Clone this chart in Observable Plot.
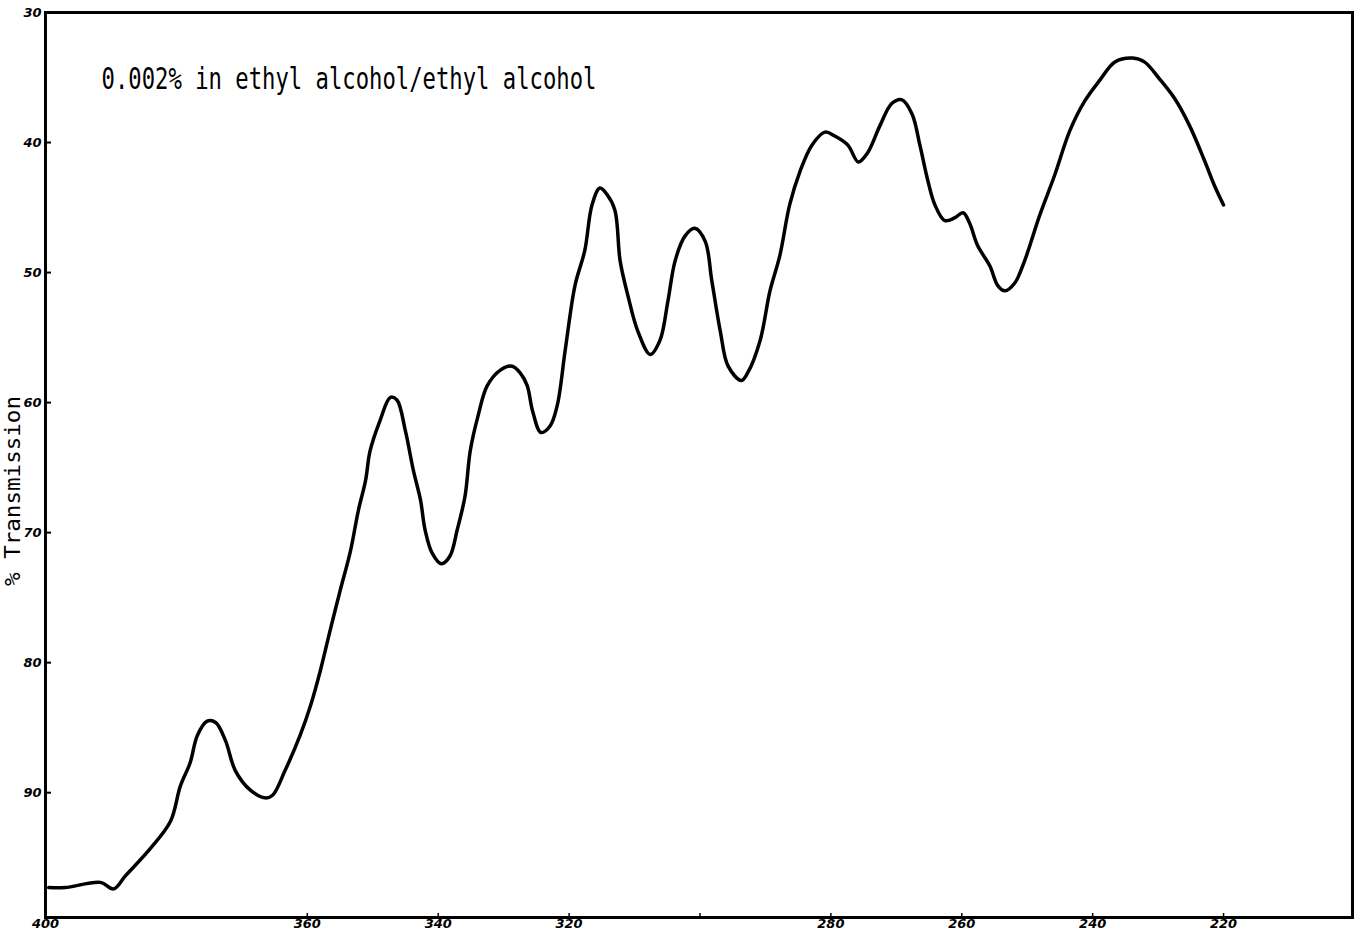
<!DOCTYPE html>
<html>
<head>
<meta charset="utf-8">
<script src="https://cdn.jsdelivr.net/npm/d3@7"></script>
<script src="https://cdn.jsdelivr.net/npm/@observablehq/plot@0.6"></script>
<style>
  html, body { margin: 0; padding: 0; background: #fff; }
  #chart svg { display: block; }
</style>
</head>
<body>
<div id="chart"></div>
<script>
const titleText = "0.002% in ethyl alcohol/ethyl alcohol";
const yLabel = "% Transmission";

const xTickValues = [360, 340, 320, 300, 280, 260, 240, 220];
const xTickLabels = [400, 360, 340, 320, 280, 260, 240, 220];
const yTickValues = [30, 40, 50, 60, 70, 80, 90];

const wavelength = [
  399.5, 397, 391.6, 389.6, 387.8, 384, 380.9, 379.4, 377.9, 376.8,
  375.3, 374.0, 372.5, 371, 368.7, 366.4, 365.3, 363.4, 361.1, 359.5,
  358, 356.5, 355, 353.4, 352.2, 351.1, 350.4, 348.9, 347.3, 346.3,
  345, 343.8, 342.7, 342, 340.9, 339.5, 338.2, 337.1, 335.9, 335.1,
  333.9, 332.5, 330.5, 328.7, 327.5, 326.4, 325.6, 324.3, 322.9, 321.8,
  320.6, 319.1, 317.6, 316.5, 315.3, 314.2, 313, 312.2, 311, 309.5,
  307.6, 306.1, 304.9, 303.8, 302.3, 300.8, 299.2, 298.2, 296.9, 295.7,
  293.7, 292.7, 290.8, 289.3, 287.8, 286.3, 284.7, 282.9, 280.9, 279.4,
  277.4, 275.8, 274.4, 272.5, 270.7, 269.2, 267.6, 266.4, 265.2, 264.1,
  262.6, 261.1, 259.8, 258.8, 257.6, 255.7, 254.5, 253.4, 251.9, 250.4,
  248.1, 245.8, 243.5, 241.2, 238.9, 236.6, 233.9, 232.1, 229.8, 227.5,
  225.2, 222.9, 221.4, 220.0
];
const transmission = [
  97.3, 97.3, 96.9, 97.4, 96.4, 94.3, 92.2, 89.5, 87.7, 85.6,
  84.5, 84.6, 86.0, 88.3, 89.8, 90.4, 90.2, 88.3, 85.6, 83.3,
  80.6, 77.5, 74.5, 71.4, 68.3, 66.0, 63.7, 61.4, 59.6, 59.8,
  62.2, 65.2, 67.5, 69.8, 71.6, 72.4, 71.8, 69.8, 67.2, 63.7,
  61.0, 58.7, 57.5, 57.2, 57.7, 58.7, 60.6, 62.3, 61.8, 60.2,
  56.0, 51.0, 48.3, 44.8, 43.5, 44.0, 45.2, 49.1, 51.8, 54.5,
  56.3, 55.2, 52.2, 49.1, 47.2, 46.6, 47.6, 50.6, 54.5, 57.2,
  58.3, 57.7, 55.2, 51.4, 48.7, 44.8, 42.2, 40.2, 39.2, 39.5,
  40.2, 41.5, 40.8, 38.7, 37.0, 36.7, 37.8, 40.2, 42.9, 44.8,
  46.0, 45.8, 45.4, 46.2, 47.9, 49.5, 51.0, 51.4, 50.8, 49.1,
  45.6, 42.5, 39.1, 36.8, 35.2, 33.8, 33.5, 33.8, 35.1, 36.6,
  38.7, 41.4, 43.3, 44.8
];

const data = wavelength.map((w, i) => ({w, t: transmission[i]}));

const W = 1360, H = 932;
const mL = 45, mT = 12, mR = 8, mB = 15;
const frameW = W - mL - mR, frameH = H - mT - mB;

const handFont = "'DejaVu Sans', sans-serif";

const plot = Plot.plot({
  width: W,
  height: H,
  marginLeft: mL,
  marginTop: mT,
  marginRight: mR,
  marginBottom: mB,
  style: {background: "#fff", color: "#000"},
  x: {domain: [400, 200.3]},
  y: {domain: [99.6, 30]},
  marks: [
    Plot.frame({stroke: "#000", strokeWidth: 3}),
    // y tick labels (hand-lettered style)
    Plot.axisY(yTickValues, {
      anchor: "left", tickSize: 0, tickPadding: 4, label: null,
      fontSize: 13, fontStyle: "italic", fontWeight: "bold",
      fontFamily: handFont
    }),
    // inward y tick marks
    Plot.tickY(yTickValues, {y: d => d, stroke: "#000", strokeWidth: 2, insetRight: frameW - 6}),
    // x tick labels
    Plot.axisX(xTickLabels, {
      anchor: "bottom", tickSize: 0, tickPadding: 1, label: null,
      fontSize: 13, fontStyle: "italic", fontWeight: "bold",
      fontFamily: handFont
    }),
    // inward x tick marks
    Plot.tickX(xTickValues, {x: d => d, stroke: "#000", strokeWidth: 1.5, insetTop: frameH - 4}),
    // spectrum curve
    Plot.line(data, {x: "w", y: "t", stroke: "#000", strokeWidth: 3.5, curve: "catmull-rom"}),
    // annotation
    Plot.text([titleText], {
      frameAnchor: "top-left", dx: 56, dy: 55, text: d => d,
      textAnchor: "start", lineAnchor: "top",
      fontSize: 30, fontFamily: "'DejaVu Sans Mono', monospace", fill: "#000"
    }),
    // y axis title
    Plot.text([yLabel], {
      frameAnchor: "left", dx: -32, dy: 26, text: d => d, rotate: -90,
      textAnchor: "middle", lineAnchor: "middle",
      fontSize: 21, fontFamily: "'DejaVu Sans Mono', monospace", fill: "#000"
    })
  ]
});

document.getElementById("chart").appendChild(plot);

// condense the typewriter-style lettering to the reference widths
d3.select(plot).selectAll("text").each(function() {
  const t = this.textContent;
  if (t === titleText) {
    d3.select(this).attr("textLength", 495).attr("lengthAdjust", "spacingAndGlyphs");
  } else if (t === yLabel) {
    d3.select(this).attr("textLength", 190).attr("lengthAdjust", "spacingAndGlyphs");
  }
});
</script>
</body>
</html>
